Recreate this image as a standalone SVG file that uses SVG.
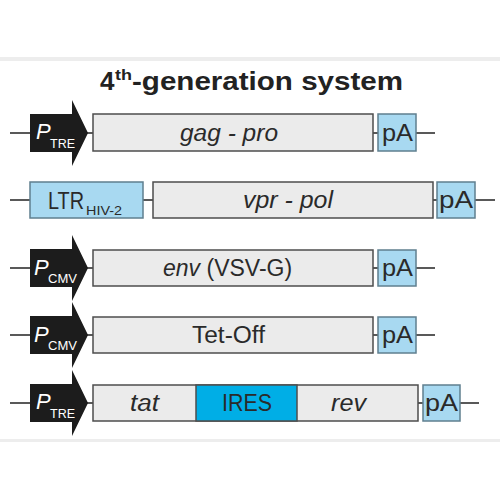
<svg xmlns="http://www.w3.org/2000/svg" width="500" height="500" viewBox="0 0 500 500">
<style>
.bg{fill:#ffffff}
.band{fill:#ededed}
.wire{stroke:#222;stroke-width:1.6;fill:none}
.prom{fill:#1c1c1c}
.gene{fill:#ebebeb;stroke:#4d4d4d;stroke-width:1.5}
.blue{fill:#a8d9f1;stroke:#5f7f8f;stroke-width:1.5}
.ires{fill:#00aee6;stroke:#4d4d4d;stroke-width:1.5}
text{font-family:"Liberation Sans",Arial,sans-serif;fill:#2a2a2a}
.lbl{font-size:23px}
.it{font-style:italic}
.pw{fill:#fff;font-style:italic;font-size:22px}
.sw{fill:#fff;font-size:13px}
.pa{font-size:24px}
.title{font-weight:bold;font-size:26px;fill:#222}
</style>
<defs>
<path id="promoter" d="M30,-19 H72 V-33 L88,0 L72,33 V19 H30 Z"/>
</defs>
<rect class="bg" x="0" y="0" width="500" height="500"/>
<rect class="band" x="0" y="57" width="500" height="4"/>
<rect class="band" x="0" y="439" width="500" height="3"/>

<text class="title" x="100" y="90">4</text>
<text class="title" x="115" y="80" style="font-size:15px" textLength="17" lengthAdjust="spacingAndGlyphs">th</text>
<text class="title" x="132" y="90" textLength="271" lengthAdjust="spacingAndGlyphs">-generation system</text>

<g id="connectors">
<line class="wire" x1="10" y1="133" x2="435" y2="133"/>
<line class="wire" x1="10" y1="200" x2="495" y2="200"/>
<line class="wire" x1="10" y1="268" x2="435" y2="268"/>
<line class="wire" x1="10" y1="335" x2="435" y2="335"/>
<line class="wire" x1="10" y1="403" x2="479" y2="403"/>
</g>

<g id="row1">
<g id="p-tre-1"><use href="#promoter" class="prom" transform="translate(0,133)"/>
<text class="pw" x="36" y="139">P</text><text class="sw" x="50" y="148" textLength="25" lengthAdjust="spacingAndGlyphs">TRE</text></g>
<g id="gag-pro"><rect class="gene" x="93" y="114" width="280" height="37"/>
<text class="lbl it" x="180" y="141" textLength="98" lengthAdjust="spacingAndGlyphs">gag - pro</text></g>
<g id="pa-1"><rect class="blue" x="378" y="114" width="38" height="37"/>
<text class="pa" x="382" y="141" textLength="31" lengthAdjust="spacingAndGlyphs">pA</text></g>
</g>

<g id="row2">
<g id="ltr"><rect class="blue" x="30" y="182" width="113" height="36"/>
<text x="48" y="209" style="font-size:23px" textLength="36" lengthAdjust="spacingAndGlyphs">LTR</text><text x="86" y="215" style="font-size:12px" textLength="36" lengthAdjust="spacingAndGlyphs">HIV-2</text></g>
<g id="vpr-pol"><rect class="gene" x="153" y="182" width="280" height="36"/>
<text class="lbl it" x="243" y="208" textLength="90" lengthAdjust="spacingAndGlyphs">vpr - pol</text></g>
<g id="pa-2"><rect class="blue" x="437" y="182" width="38" height="36"/>
<text class="pa" x="439" y="208" textLength="34" lengthAdjust="spacingAndGlyphs">pA</text></g>
</g>

<g id="row3">
<g id="p-cmv-1"><use href="#promoter" class="prom" transform="translate(0,268)"/>
<text class="pw" x="34" y="275">P</text><text class="sw" x="48" y="283" textLength="29" lengthAdjust="spacingAndGlyphs">CMV</text></g>
<g id="env"><rect class="gene" x="93" y="250" width="280" height="36"/>
<text class="lbl" x="163" y="276"><tspan class="it">env</tspan> (VSV-G)</text></g>
<g id="pa-3"><rect class="blue" x="378" y="250" width="38" height="36"/>
<text class="pa" x="382" y="276" textLength="31" lengthAdjust="spacingAndGlyphs">pA</text></g>
</g>

<g id="row4">
<g id="p-cmv-2"><use href="#promoter" class="prom" transform="translate(0,335)"/>
<text class="pw" x="34" y="342">P</text><text class="sw" x="48" y="350" textLength="29" lengthAdjust="spacingAndGlyphs">CMV</text></g>
<g id="tet-off"><rect class="gene" x="93" y="317" width="280" height="36"/>
<text class="lbl" x="192" y="343" textLength="73" lengthAdjust="spacingAndGlyphs">Tet-Off</text></g>
<g id="pa-4"><rect class="blue" x="378" y="317" width="38" height="36"/>
<text class="pa" x="382" y="343" textLength="31" lengthAdjust="spacingAndGlyphs">pA</text></g>
</g>

<g id="row5">
<g id="p-tre-2"><use href="#promoter" class="prom" transform="translate(0,403)"/>
<text class="pw" x="36" y="409">P</text><text class="sw" x="50" y="418" textLength="25" lengthAdjust="spacingAndGlyphs">TRE</text></g>
<g id="tat-ires-rev"><rect class="gene" x="93" y="385" width="325" height="36"/>
<rect class="ires" x="196" y="385" width="101" height="36"/>
<text class="lbl it" x="130" y="411" textLength="29" lengthAdjust="spacingAndGlyphs">tat</text>
<text class="lbl" x="222" y="411" textLength="50" lengthAdjust="spacingAndGlyphs">IRES</text>
<text class="lbl it" x="331" y="411" textLength="35" lengthAdjust="spacingAndGlyphs">rev</text></g>
<g id="pa-5"><rect class="blue" x="423" y="385" width="37" height="36"/>
<text class="pa" x="425" y="411" textLength="33" lengthAdjust="spacingAndGlyphs">pA</text></g>
</g>
</svg>
